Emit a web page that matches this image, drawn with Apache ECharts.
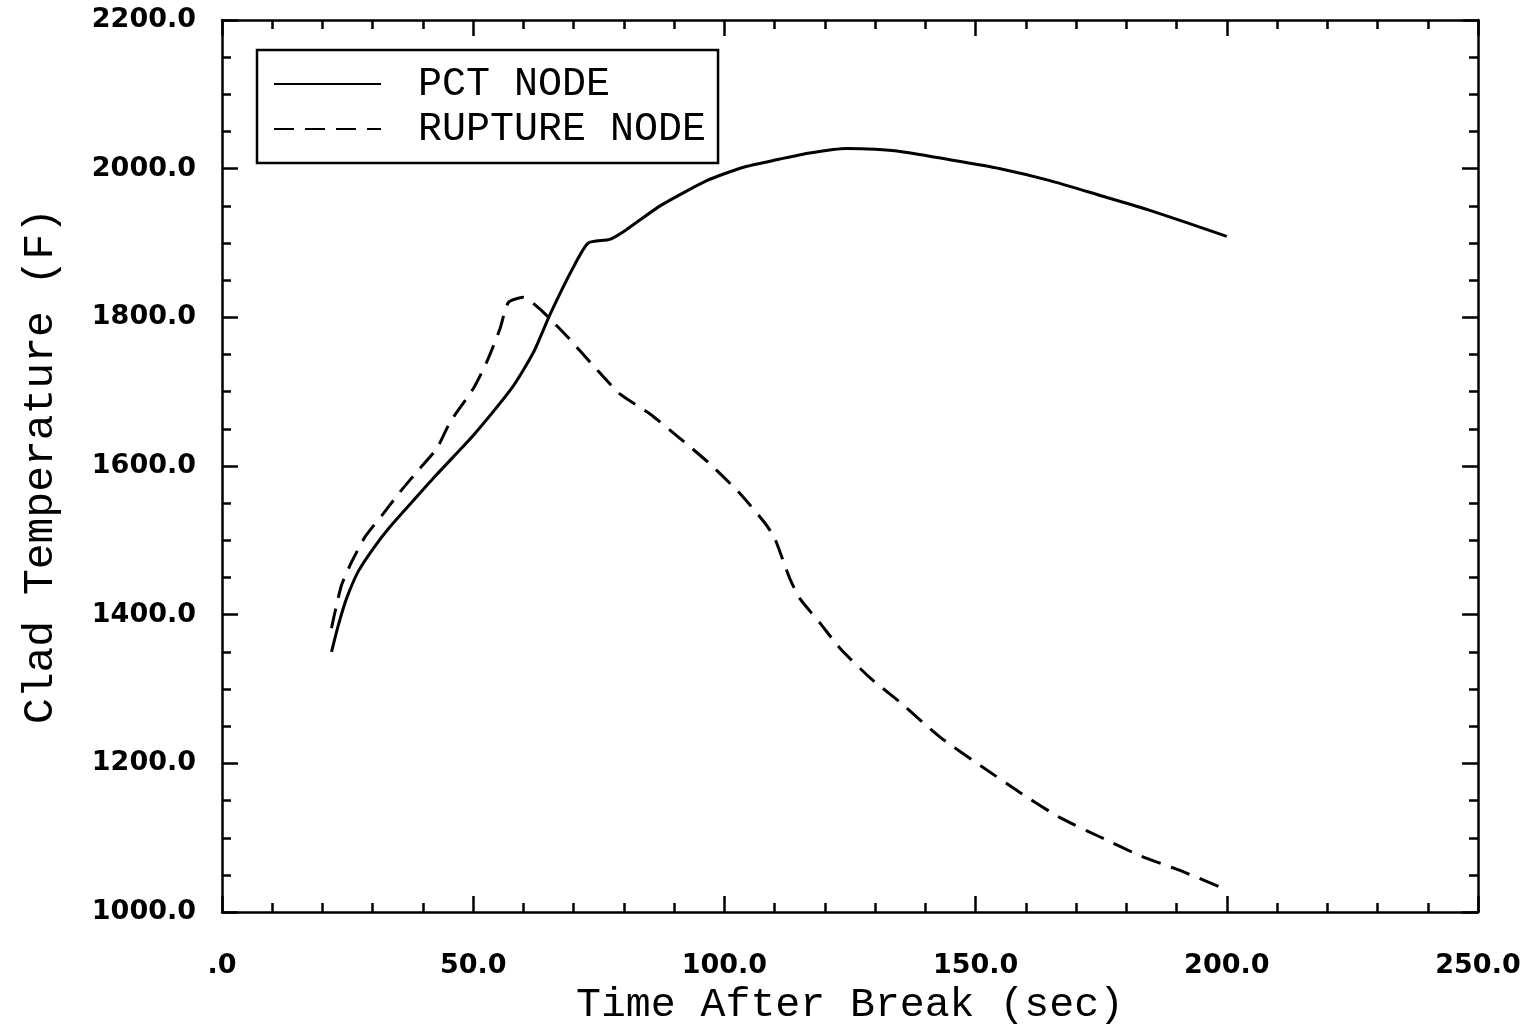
<!DOCTYPE html>
<html>
<head>
<meta charset="utf-8">
<script src="https://cdn.jsdelivr.net/npm/echarts@6/dist/echarts.min.js"></script>
<style>html,body{margin:0;padding:0;background:#fff}#c{width:1525px;height:1031px}</style>
</head>
<body>
<div id="c"></div>
<script>
const pctTime = [21.8, 23.2, 24.8, 27.1, 30.1, 33.4, 38.8, 42.1, 46.0, 50.0, 58.0, 62.0, 65.3, 69.9, 72.9, 77.2, 80.5, 87.2, 96.5, 103.8, 110.4, 117.0, 124.3, 130.0, 135.0, 144.9, 154.9, 164.8, 174.8, 184.7, 200];
const pctTemp = [1350, 1387, 1422, 1458, 1489, 1518, 1559, 1584, 1612, 1641, 1708, 1753, 1804, 1867, 1900, 1905, 1918, 1950, 1984, 2002, 2012, 2021, 2027, 2026, 2023, 2012, 2000, 1984, 1964, 1944, 1909];
const rupTime = [21.8, 22.5, 23.8, 25.8, 28.5, 32.1, 35.4, 39.4, 42.7, 45.4, 50.0, 52.7, 55.3, 57.0, 60.0, 63.3, 68.6, 73.9, 79.2, 85.2, 91.2, 97.1, 103.1, 108.1, 110.0, 113.0, 115.0, 119.0, 123.0, 129.0, 135.0, 143.0, 151.0, 158.8, 166.8, 174.8, 182.7, 190.7, 200];
const rupTemp = [1382, 1404, 1440, 1471, 1505, 1536, 1565, 1597, 1623, 1659, 1704, 1740, 1784, 1820, 1827, 1811, 1775, 1735, 1697, 1670, 1637, 1603, 1563, 1523, 1503, 1449, 1422, 1389, 1355, 1315, 1282, 1235, 1197, 1161, 1127, 1101, 1076, 1056, 1030];
const seriesNames = ['PCT NODE', 'RUPTURE NODE'];
const xTitle = 'Time After Break (sec)';
const yTitle = 'Clad Temperature (F)';

const chart = echarts.init(document.getElementById('c'));
const serifFont = '"Liberation Mono", "DejaVu Sans Mono", monospace';
const labFont = '"DejaVu Sans", sans-serif';
const axisCommon = {
  type: 'value',
  axisLine: { show: true, onZero: false, lineStyle: { color: '#000', width: 2.5 } },
  axisTick: { show: true, inside: true, length: 16, lineStyle: { color: '#000', width: 2.5 } },
  minorTick: { show: true, length: 9, lineStyle: { color: '#000', width: 2.5 } },
  splitLine: { show: false },
  minorSplitLine: { show: false }
};
const pair = (xs, ys) => xs.map((x, i) => [x, ys[i]]);
chart.setOption({
  animation: false,
  backgroundColor: '#fff',
  grid: { left: 222, right: 47, top: 20, bottom: 116 },
  legend: {
    left: 257, top: 50,
    orient: 'vertical',
    data: seriesNames,
    itemWidth: 107, itemHeight: 14, itemGap: 5,
    itemStyle: { opacity: 0 },
    padding: [14, 12, 14, 16],
    borderColor: '#000', borderWidth: 2.5,
    textStyle: { fontFamily: serifFont, fontSize: 40, color: '#000', padding: [0, 0, 0, 32] }
  },
  xAxis: [
    Object.assign({}, axisCommon, {
      position: 'bottom', min: 0, max: 250, interval: 50,
      minorTick: Object.assign({}, axisCommon.minorTick, { splitNumber: 5 }),
      axisLabel: { margin: 40, color: '#000', fontFamily: labFont, fontWeight: 'bold', fontSize: 27,
        formatter: v => v === 0 ? '.0' : v.toFixed(1) },
      name: xTitle, nameLocation: 'middle', nameGap: 64,
      nameTextStyle: { fontFamily: serifFont, fontSize: 41.5, color: '#000' }
    }),
    Object.assign({}, axisCommon, {
      position: 'top', min: 0, max: 250, interval: 50,
      minorTick: Object.assign({}, axisCommon.minorTick, { splitNumber: 5 }),
      axisLabel: { show: false }
    })
  ],
  yAxis: [
    Object.assign({}, axisCommon, {
      position: 'left', min: 1000, max: 2200, interval: 200,
      minorTick: Object.assign({}, axisCommon.minorTick, { splitNumber: 4 }),
      axisLabel: { margin: 26, color: '#000', fontFamily: labFont, fontWeight: 'bold', fontSize: 27,
        formatter: v => v.toFixed(1) },
      name: yTitle, nameLocation: 'middle', nameGap: 160,
      nameTextStyle: { fontFamily: serifFont, fontSize: 43, color: '#000' }
    }),
    Object.assign({}, axisCommon, {
      position: 'right', min: 1000, max: 2200, interval: 200,
      minorTick: Object.assign({}, axisCommon.minorTick, { splitNumber: 4 }),
      axisLabel: { show: false }
    })
  ],
  series: [
    { name: seriesNames[0], type: 'line', xAxisIndex: 0, yAxisIndex: 0, data: pair(pctTime, pctTemp),
      symbol: 'none', smooth: 0.2,
      lineStyle: { color: '#000', width: 3, type: 'solid' }, itemStyle: { color: '#000' } },
    { name: seriesNames[1], type: 'line', xAxisIndex: 0, yAxisIndex: 0, data: pair(rupTime, rupTemp),
      symbol: 'none', smooth: 0.2,
      lineStyle: { color: '#000', width: 3, type: [20, 11] }, itemStyle: { color: '#000' } }
  ]
});
</script>
</body>
</html>
